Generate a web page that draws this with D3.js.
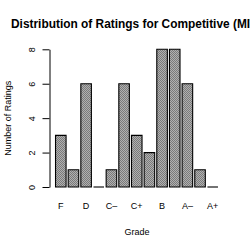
<!DOCTYPE html>
<html>
<head>
<meta charset="utf-8">
<script src="https://cdn.jsdelivr.net/npm/d3@7"></script>
<style>
  body { margin: 0; background: #fff; }
  svg { display: block; }
  text { font-family: "Liberation Sans", Arial, Helvetica, sans-serif; fill: #000; }
</style>
</head>
<body>
<svg id="chart" width="250" height="250"></svg>
<script>
// grades, in order from worst to best
const grades = ['F', 'D-', 'D', 'D+', 'C-', 'C', 'C+', 'B-', 'B', 'B+', 'A-', 'A', 'A+'];
const counts = [3, 1, 6, 0, 1, 6, 3, 2, 8, 8, 6, 1, 0];
// R only prints every other label, the rest would overlap
const shownLabels = ['F', 'D', 'C\u2013', 'C+', 'B', 'A\u2013', 'A+'];
const yTicks = [0, 2, 4, 6, 8];

const titleText = 'Distribution of Ratings for Competitive (MIT)';

const svg = d3.select('#chart');

// barplot style positions: width 1, space 0.2
const barCenter = i => 0.7 + 1.2 * i;
const x = d3.scaleLinear().domain([0.7, 15.1]).range([60.8, 212.7]);
const y = d3.scaleLinear().domain([0, 8]).range([187, 49.3]);
const barW = x(1) - x(0);

// checker fill like the original raster
const defs = svg.append('defs');
const pat = defs.append('pattern')
    .attr('id', 'checker')
    .attr('width', 2)
    .attr('height', 2)
    .attr('patternUnits', 'userSpaceOnUse');
pat.append('rect').attr('width', 2).attr('height', 2).attr('fill', '#b0b0b0');
pat.append('rect').attr('width', 1).attr('height', 1).attr('fill', '#7a7a7a');
pat.append('rect').attr('x', 1).attr('y', 1).attr('width', 1).attr('height', 1).attr('fill', '#7a7a7a');

// title, left side visible, runs off the right edge like the original
svg.append('text')
    .attr('x', 11)
    .attr('y', 28)
    .attr('font-size', '11.9px')
    .attr('font-weight', 'bold')
    .text(titleText);

// bars (zero counts still get a flat outline)
svg.selectAll('.bar')
    .data(counts)
    .enter().append('path')
    .attr('class', 'bar')
    .attr('d', (d, i) => {
        const x0 = x(barCenter(i)) - barW / 2;
        const x1 = x0 + barW;
        const y0 = y(0), y1 = y(d);
        if (d === 0) return `M${x0},${y0}H${x1}`;
        return `M${x0},${y0}V${y1}H${x1}V${y0}Z`;
    })
    .attr('fill', d => d === 0 ? 'none' : 'url(#checker)')
    .attr('stroke', '#000')
    .attr('stroke-width', 1.1);

// y axis
const yAxis = d3.axisLeft(y)
    .tickValues(yTicks)
    .tickSize(7)
    .tickSizeOuter(0)
    .tickFormat(d3.format('d'));
const gy = svg.append('g')
    .attr('transform', 'translate(49.5,0)')
    .call(yAxis);
gy.select('.domain').attr('stroke', '#000');
gy.selectAll('.tick line').attr('stroke', '#000');
gy.selectAll('.tick text')
    .attr('font-size', '9px')
    .attr('font-family', '"Liberation Sans", Arial, sans-serif')
    .attr('fill', '#000')
    .attr('text-anchor', 'middle')
    .attr('x', 0)
    .attr('dy', 0)
    .attr('transform', 'translate(-14.5,0) rotate(-90)');

// x labels, only every other grade
svg.selectAll('.xlab')
    .data(shownLabels)
    .enter().append('text')
    .attr('class', 'xlab')
    .attr('x', (d, i) => x(barCenter(i * 2)))
    .attr('y', 209)
    .attr('text-anchor', 'middle')
    .attr('font-size', '9px')
    .text(d => d);

// axis titles
svg.append('text')
    .attr('x', 137)
    .attr('y', 234.5)
    .attr('text-anchor', 'middle')
    .attr('font-size', '9px')
    .text('Grade');

svg.append('text')
    .attr('transform', `translate(10.5,${(y(0) + y(8)) / 2}) rotate(-90)`)
    .attr('text-anchor', 'middle')
    .attr('font-size', '9px')
    .text('Number of Ratings');
</script>
</body>
</html>
